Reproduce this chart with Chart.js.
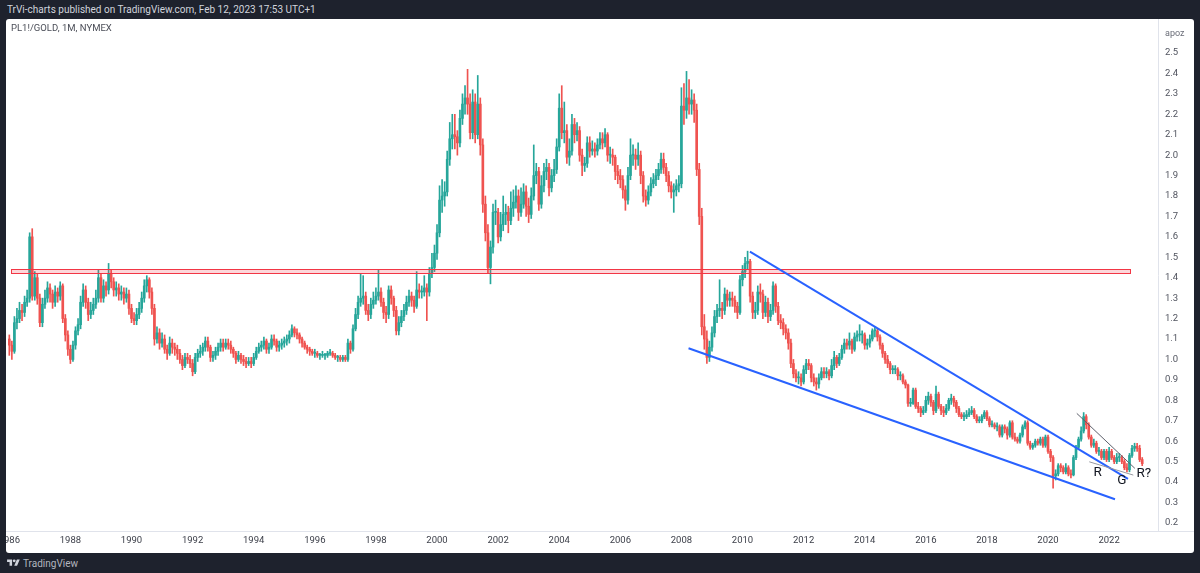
<!DOCTYPE html>
<html><head><meta charset="utf-8">
<script src="https://cdn.jsdelivr.net/npm/chart.js@4.4.1/dist/chart.umd.min.js"></script>
<style>
html,body{margin:0;padding:0;background:#1e222d;width:1200px;height:573px;overflow:hidden;font-family:Roboto,"Liberation Sans",sans-serif;}
#hdr{position:absolute;left:7px;top:3px;color:#d1d4dc;font-size:10px;line-height:14px;white-space:nowrap;}
#panel{position:absolute;left:6px;top:19px;width:1188px;height:534px;background:#fff;border-radius:3px;overflow:hidden;}
#cv{position:absolute;left:0;top:0;}
#sym{position:absolute;left:5px;top:3px;font-size:9.5px;color:#4a4d57;white-space:nowrap;}
#ftr{position:absolute;left:7px;top:556px;height:14px;display:flex;align-items:center;color:#b2b5be;font-size:10px;}
#ftr svg{margin-right:3px;}
</style>
</head><body>
<div id="hdr">TrVi-charts published on TradingView.com, Feb 12, 2023 17:53 UTC+1</div>
<div id="panel"><canvas id="cv" width="1188" height="534"></canvas><div id="sym">PL1!/GOLD, 1M, NYMEX</div></div>
<div id="ftr"><svg width="13" height="10" viewBox="0 0 36 28"><path d="M14 22H7V11H0V4h14v18zM28 22h-8l7.5-18h8L28 22z" fill="#d1d4dc"/><circle cx="20" cy="8" r="4" fill="#d1d4dc"/></svg>TradingView</div>
<script>
// Monthly candles PL1!/GOLD, Jan 1986 .. Feb 2023 (index 0 = Jan 1986)
const firstOpen = 1.10;
const closes = [
1.07,1.04,1.18,1.20,1.24,1.23,1.28,1.30,1.60,1.31,1.40,1.30,
1.18,1.27,1.30,1.35,1.32,1.28,1.33,1.31,1.36,1.20,1.12,1.05,
1.00,1.07,1.14,1.17,1.28,1.34,1.28,1.22,1.24,1.27,1.30,1.40,
1.30,1.36,1.34,1.42,1.38,1.34,1.35,1.32,1.33,1.30,1.32,1.25,
1.20,1.19,1.22,1.25,1.30,1.36,1.39,1.33,1.25,1.10,1.13,1.08,
1.10,1.05,1.03,1.08,1.06,1.05,1.03,1.00,0.97,1.01,1.00,0.98,
0.94,1.01,1.03,1.04,1.06,1.09,1.06,1.01,1.02,1.04,1.06,1.08,
1.06,1.08,1.07,1.05,1.03,1.00,1.02,1.00,0.99,0.98,0.99,0.98,
1.01,1.04,1.06,1.07,1.09,1.05,1.06,1.10,1.09,1.06,1.07,1.08,
1.09,1.10,1.12,1.15,1.13,1.12,1.10,1.08,1.06,1.05,1.04,1.03,
1.03,1.02,1.02,1.02,1.02,1.03,1.03,1.02,1.01,1.01,1.00,1.01,
1.00,1.08,1.05,1.15,1.22,1.28,1.30,1.31,1.24,1.22,1.27,1.29,
1.31,1.33,1.28,1.23,1.22,1.34,1.30,1.24,1.14,1.18,1.21,1.24,
1.28,1.31,1.29,1.26,1.34,1.33,1.33,1.35,1.33,1.42,1.45,1.52,
1.62,1.78,1.80,1.82,1.98,2.08,2.10,2.09,2.06,2.18,2.25,2.28,
2.25,2.11,2.26,2.10,2.25,2.05,1.76,1.62,1.45,1.55,1.72,1.72,
1.60,1.66,1.71,1.72,1.68,1.74,1.77,1.80,1.72,1.76,1.82,1.75,
1.71,1.80,1.90,1.92,1.76,1.85,1.92,1.94,1.84,1.90,1.93,2.04,
2.23,2.11,2.12,1.99,2.02,2.15,2.10,2.12,2.00,1.95,1.96,2.06,
2.02,2.03,2.02,2.05,2.08,2.06,2.10,2.00,2.00,1.99,1.92,1.90,
1.88,1.83,1.78,1.90,2.00,2.00,1.98,2.00,1.90,1.80,1.78,1.82,
1.86,1.88,1.90,1.93,1.98,1.94,1.90,1.85,1.82,1.83,1.85,1.86,
2.24,2.22,2.28,2.25,2.27,2.22,1.93,1.70,1.16,1.10,1.01,1.06,
1.13,1.21,1.24,1.25,1.24,1.32,1.29,1.30,1.29,1.26,1.23,1.39,
1.43,1.47,1.48,1.31,1.23,1.24,1.33,1.32,1.23,1.28,1.21,1.24,
1.36,1.26,1.19,1.18,1.15,1.13,1.08,0.98,0.93,0.91,0.91,0.89,
0.95,0.98,0.97,0.91,0.89,0.88,0.91,0.94,0.93,0.94,0.92,0.97,
1.01,0.98,1.01,1.05,1.08,1.07,1.09,1.05,1.11,1.12,1.12,1.12,
1.07,1.08,1.10,1.14,1.14,1.11,1.07,1.03,1.00,0.98,0.95,0.95,
0.95,0.92,0.92,0.89,0.875,0.785,0.785,0.85,0.77,0.76,0.74,0.75,
0.80,0.82,0.79,0.75,0.83,0.77,0.75,0.74,0.76,0.80,0.81,0.79,
0.76,0.73,0.72,0.72,0.73,0.74,0.75,0.72,0.70,0.70,0.72,0.74,
0.71,0.68,0.68,0.67,0.67,0.63,0.67,0.66,0.63,0.69,0.62,0.61,
0.60,0.63,0.67,0.69,0.59,0.57,0.58,0.60,0.59,0.61,0.58,0.62,
0.55,0.52,0.43,0.44,0.48,0.47,0.45,0.47,0.44,0.435,0.52,0.57,
0.61,0.65,0.72,0.68,0.62,0.58,0.59,0.55,0.55,0.52,0.55,0.51,
0.55,0.52,0.50,0.52,0.52,0.50,0.47,0.46,0.53,0.565,0.575,0.565,
0.51,0.49];
const highs = [
1.12,1.09,1.21,1.25,1.28,1.27,1.31,1.34,1.62,1.64,1.43,1.42,
1.32,1.30,1.34,1.38,1.37,1.34,1.36,1.35,1.38,1.37,1.22,1.14,
1.07,1.09,1.16,1.20,1.31,1.37,1.36,1.30,1.28,1.30,1.34,1.44,
1.42,1.39,1.38,1.47,1.44,1.40,1.38,1.37,1.36,1.35,1.35,1.34,
1.27,1.23,1.25,1.28,1.33,1.39,1.41,1.40,1.35,1.27,1.16,1.15,
1.13,1.12,1.07,1.11,1.10,1.08,1.07,1.05,1.02,1.03,1.03,1.02,
1.00,1.03,1.05,1.07,1.08,1.11,1.11,1.07,1.04,1.06,1.08,1.10,
1.10,1.10,1.10,1.09,1.06,1.04,1.04,1.03,1.02,1.01,1.01,1.01,
1.03,1.06,1.08,1.09,1.11,1.10,1.08,1.12,1.12,1.10,1.09,1.10,
1.11,1.12,1.14,1.17,1.16,1.15,1.13,1.11,1.09,1.07,1.06,1.05,
1.05,1.04,1.03,1.04,1.03,1.04,1.05,1.04,1.03,1.02,1.02,1.02,
1.02,1.10,1.09,1.17,1.25,1.31,1.42,1.41,1.33,1.27,1.30,1.33,
1.35,1.44,1.35,1.30,1.26,1.36,1.36,1.31,1.26,1.21,1.24,1.27,
1.31,1.34,1.33,1.31,1.43,1.37,1.36,1.41,1.37,1.45,1.52,1.56,
1.66,1.85,1.88,1.87,2.02,2.16,2.20,2.20,2.12,2.22,2.30,2.34,
2.42,2.30,2.32,2.30,2.39,2.28,2.08,1.80,1.66,1.58,1.76,1.78,
1.74,1.72,1.80,1.76,1.75,1.82,1.83,1.85,1.83,1.84,1.86,1.85,
1.79,1.84,2.05,1.96,1.94,1.90,1.96,1.98,1.96,1.93,1.98,2.08,
2.30,2.34,2.26,2.15,2.08,2.20,2.18,2.16,2.14,2.03,1.99,2.09,
2.09,2.07,2.06,2.08,2.11,2.11,2.13,2.11,2.04,2.03,2.00,1.95,
1.93,1.90,1.85,1.94,2.08,2.05,2.03,2.06,2.02,1.92,1.83,1.85,
1.89,1.91,1.93,1.96,2.01,2.01,1.96,1.92,1.87,1.86,1.88,1.90,
2.33,2.35,2.41,2.37,2.32,2.30,2.25,1.96,1.74,1.22,1.14,1.09,
1.16,1.24,1.27,1.39,1.28,1.35,1.34,1.33,1.33,1.31,1.28,1.41,
1.46,1.50,1.53,1.49,1.33,1.28,1.36,1.37,1.34,1.31,1.30,1.27,
1.38,1.37,1.28,1.22,1.20,1.17,1.15,1.10,1.00,0.95,0.94,0.93,
0.97,1.00,1.00,0.98,0.93,0.91,0.93,0.96,0.96,0.96,0.95,1.00,
1.04,1.02,1.03,1.07,1.10,1.10,1.13,1.10,1.13,1.14,1.17,1.14,
1.13,1.10,1.12,1.15,1.16,1.15,1.12,1.08,1.04,1.02,0.99,0.97,
0.97,0.96,0.94,0.93,0.90,0.88,0.81,0.86,0.86,0.79,0.77,0.77,
0.82,0.84,0.83,0.80,0.87,0.84,0.78,0.77,0.78,0.81,0.83,0.82,
0.80,0.77,0.74,0.74,0.75,0.76,0.77,0.76,0.73,0.72,0.73,0.75,
0.75,0.72,0.70,0.69,0.69,0.68,0.68,0.68,0.67,0.70,0.70,0.64,
0.62,0.64,0.68,0.70,0.70,0.60,0.59,0.61,0.61,0.62,0.62,0.63,
0.63,0.56,0.53,0.46,0.49,0.49,0.48,0.49,0.48,0.46,0.53,0.58,
0.62,0.67,0.74,0.73,0.69,0.63,0.61,0.60,0.57,0.56,0.56,0.56,
0.57,0.56,0.53,0.54,0.54,0.53,0.51,0.49,0.54,0.58,0.59,0.59,
0.58,0.52];
const lows = [
1.02,1.00,1.03,1.15,1.18,1.19,1.21,1.26,1.28,1.29,1.29,1.27,
1.16,1.16,1.25,1.28,1.28,1.25,1.26,1.28,1.29,1.18,1.09,1.02,
0.98,0.99,1.05,1.12,1.15,1.26,1.25,1.19,1.20,1.22,1.25,1.28,
1.28,1.28,1.31,1.32,1.35,1.31,1.31,1.29,1.29,1.27,1.28,1.22,
1.18,1.17,1.17,1.20,1.23,1.28,1.33,1.30,1.22,1.07,1.08,1.05,
1.06,1.03,1.00,1.02,1.03,1.02,1.00,0.98,0.95,0.96,0.98,0.96,
0.92,0.93,0.99,1.01,1.02,1.04,1.04,0.99,0.99,1.00,1.02,1.04,
1.04,1.05,1.05,1.03,1.01,0.98,0.99,0.98,0.97,0.96,0.97,0.96,
0.97,1.00,1.03,1.04,1.05,1.03,1.03,1.05,1.07,1.04,1.04,1.05,
1.06,1.07,1.08,1.11,1.11,1.10,1.08,1.06,1.05,1.03,1.02,1.02,
1.01,1.01,1.00,1.01,1.00,1.01,1.02,1.01,1.00,0.99,0.99,0.99,
0.99,0.99,1.03,1.04,1.14,1.20,1.26,1.27,1.22,1.19,1.20,1.25,
1.27,1.29,1.26,1.20,1.18,1.20,1.27,1.21,1.12,1.12,1.16,1.19,
1.22,1.26,1.26,1.23,1.25,1.30,1.30,1.31,1.19,1.31,1.40,1.43,
1.49,1.60,1.72,1.75,1.80,1.95,2.03,2.03,2.00,2.04,2.15,2.20,
2.20,2.08,2.08,2.06,2.08,2.00,1.72,1.58,1.42,1.37,1.52,1.66,
1.57,1.58,1.63,1.66,1.62,1.66,1.70,1.74,1.68,1.70,1.74,1.70,
1.67,1.69,1.78,1.86,1.73,1.74,1.82,1.88,1.80,1.82,1.87,1.91,
2.02,2.08,2.06,1.96,1.95,2.00,2.06,2.07,1.97,1.90,1.92,1.94,
1.99,2.00,1.99,2.00,2.03,2.03,2.04,1.97,1.96,1.95,1.88,1.86,
1.84,1.79,1.73,1.76,1.88,1.95,1.93,1.95,1.86,1.77,1.75,1.76,
1.80,1.84,1.85,1.88,1.91,1.91,1.87,1.82,1.79,1.72,1.80,1.82,
1.84,2.15,2.18,2.20,2.20,2.16,1.90,1.66,1.12,1.05,0.98,0.99,
1.04,1.11,1.18,1.21,1.20,1.22,1.26,1.26,1.26,1.23,1.20,1.22,
1.36,1.40,1.44,1.28,1.20,1.20,1.22,1.28,1.20,1.21,1.18,1.19,
1.22,1.23,1.17,1.15,1.12,1.10,1.05,0.96,0.91,0.89,0.88,0.87,
0.88,0.93,0.95,0.89,0.87,0.85,0.86,0.90,0.91,0.91,0.90,0.91,
0.95,0.96,0.97,1.00,1.03,1.05,1.05,1.03,1.04,1.09,1.09,1.08,
1.05,1.05,1.06,1.09,1.11,1.09,1.05,1.01,0.98,0.96,0.93,0.93,
0.93,0.90,0.90,0.88,0.86,0.77,0.77,0.78,0.76,0.74,0.72,0.73,
0.74,0.78,0.77,0.73,0.74,0.76,0.73,0.72,0.73,0.75,0.78,0.77,
0.74,0.72,0.71,0.70,0.71,0.72,0.73,0.71,0.69,0.69,0.69,0.71,
0.70,0.67,0.67,0.66,0.65,0.62,0.62,0.64,0.61,0.62,0.61,0.60,
0.59,0.59,0.62,0.66,0.58,0.56,0.56,0.57,0.58,0.58,0.57,0.57,
0.54,0.50,0.37,0.41,0.43,0.45,0.44,0.44,0.43,0.42,0.43,0.51,
0.56,0.60,0.64,0.66,0.61,0.57,0.57,0.54,0.53,0.51,0.51,0.50,
0.50,0.51,0.49,0.49,0.50,0.49,0.46,0.45,0.45,0.52,0.55,0.55,
0.50,0.48];

// Axis tick labels
const yearLabels = ['1986','1988','1990','1992','1994','1996','1998','2000','2002','2004','2006','2008','2010','2012','2014','2016','2018','2020','2022'];
const priceTicks = [0.2,0.3,0.4,0.5,0.6,0.7,0.8,0.9,1.0,1.1,1.2,1.3,1.4,1.5,1.6,1.7,1.8,1.9,2.0,2.1,2.2,2.3,2.4,2.5];

// Drawings (month index, value)
const zoneMonths = [0.7, 440.2];
const zoneValues = [1.422, 1.441];
const wedgeUpper = [[290.9, 1.528], [439.4, 0.415]];
const wedgeLower = [[266.8, 1.055], [434.3, 0.316]];
const trendDark = [[419.3, 0.736], [442.1, 0.467]];
const trendGray = [[424.2, 0.499], [441.5, 0.434]];
const markTexts = ['R', 'G', 'R?'];
const markMonths = [427.5, 437.0, 445.6];
const markValues = [0.448, 0.407, 0.441];

const opens = closes.map((c, i) => i === 0 ? firstOpen : closes[i - 1]);
const UP = '#26a69a', DOWN = '#ef5350';
const colors = closes.map((c, i) => c >= opens[i] ? UP : DOWN);
const tickMonths = yearLabels.map(y => (parseInt(y) - 1986) * 12);

const drawings = {
  id: 'drawings',
  afterDatasetsDraw(chart) {
    const {ctx, chartArea: ca, scales: {x, y}} = chart;
    ctx.save();
    ctx.beginPath(); ctx.rect(ca.left, ca.top, ca.right - ca.left, ca.bottom - ca.top); ctx.clip();
    const zx0 = x.getPixelForValue(zoneMonths[0]), zx1 = x.getPixelForValue(zoneMonths[1]);
    const zy0 = y.getPixelForValue(zoneValues[1]), zy1 = y.getPixelForValue(zoneValues[0]);
    ctx.fillStyle = 'rgba(242,54,69,0.2)';
    ctx.fillRect(zx0, zy0, zx1 - zx0, zy1 - zy0);
    ctx.strokeStyle = '#f23645'; ctx.lineWidth = 1;
    ctx.strokeRect(Math.round(zx0) + 0.5, Math.round(zy0) + 0.5, Math.round(zx1 - zx0), Math.round(zy1 - zy0));
    const line = (pts, col, w) => {
      ctx.beginPath();
      ctx.moveTo(x.getPixelForValue(pts[0][0]), y.getPixelForValue(pts[0][1]));
      ctx.lineTo(x.getPixelForValue(pts[1][0]), y.getPixelForValue(pts[1][1]));
      ctx.strokeStyle = col; ctx.lineWidth = w; ctx.stroke();
    };
    line(wedgeUpper, '#2962ff', 2);
    line(wedgeLower, '#2962ff', 2);
    line(trendDark, '#5d606b', 1);
    line(trendGray, '#9598a1', 1);
    ctx.restore();
    ctx.save();
    ctx.fillStyle = '#131722';
    ctx.font = '13.5px Roboto, "Liberation Sans", sans-serif';
    ctx.textAlign = 'center'; ctx.textBaseline = 'middle';
    markTexts.forEach((t, i) => ctx.fillText(t, x.getPixelForValue(markMonths[i]), y.getPixelForValue(markValues[i])));
    ctx.fillStyle = '#6a6d78';
    ctx.font = '9px Roboto, "Liberation Sans", sans-serif';
    ctx.textAlign = 'left';
    ctx.fillText('apoz', y.left + 7, 15);
    ctx.strokeStyle = '#e0e3eb'; ctx.lineWidth = 1;
    ctx.beginPath(); ctx.moveTo(0, Math.round(ca.bottom) + 0.5); ctx.lineTo(chart.width, Math.round(ca.bottom) + 0.5); ctx.stroke();
    ctx.restore();
  }
};

new Chart(document.getElementById('cv'), {
  type: 'bar',
  data: {
    datasets: [
      {label: 'wick', data: highs.map((h, i) => ({x: i, y: [lows[i], h]})), backgroundColor: colors, barThickness: 1, grouped: false, order: 2},
      {label: 'body', data: closes.map((c, i) => ({x: i, y: [opens[i], c]})), backgroundColor: colors, barThickness: 2, minBarLength: 1, grouped: false, order: 1}
    ]
  },
  options: {
    responsive: false, animation: false, devicePixelRatio: 1,
    layout: {padding: 0},
    plugins: {legend: {display: false}, tooltip: {enabled: false}},
    scales: {
      x: {
        type: 'linear', position: 'bottom', min: -1.3, max: 451.2, offset: false,
        grid: {display: false, offset: false, drawTicks: false},
        border: {display: true, color: '#e0e3eb'},
        afterBuildTicks: s => { s.ticks = tickMonths.map(v => ({value: v})); },
        afterFit: s => { s.height = 22; s.paddingLeft = 0; s.paddingRight = 0; },
        ticks: {
          autoSkip: false, maxRotation: 0, padding: 4, color: '#3b3e48',
          font: {size: 9.5, family: 'Roboto, "Liberation Sans", sans-serif'},
          callback: (v) => { const k = tickMonths.indexOf(v); return k >= 0 ? yearLabels[k] : ''; }
        }
      },
      y: {
        type: 'linear', position: 'right', min: 0.1603, max: 2.6664,
        grid: {display: false, drawTicks: false},
        border: {display: true, color: '#e0e3eb'},
        afterBuildTicks: s => { s.ticks = priceTicks.map(v => ({value: v})); },
        afterFit: s => { s.width = 36; s.paddingTop = 0; s.paddingBottom = 0; },
        ticks: {
          padding: 7, color: '#50535e',
          font: {size: 9.5, family: 'Roboto, "Liberation Sans", sans-serif'},
          callback: v => Number(v).toFixed(1)
        }
      }
    }
  },
  plugins: [drawings]
});
</script>
</body></html>
